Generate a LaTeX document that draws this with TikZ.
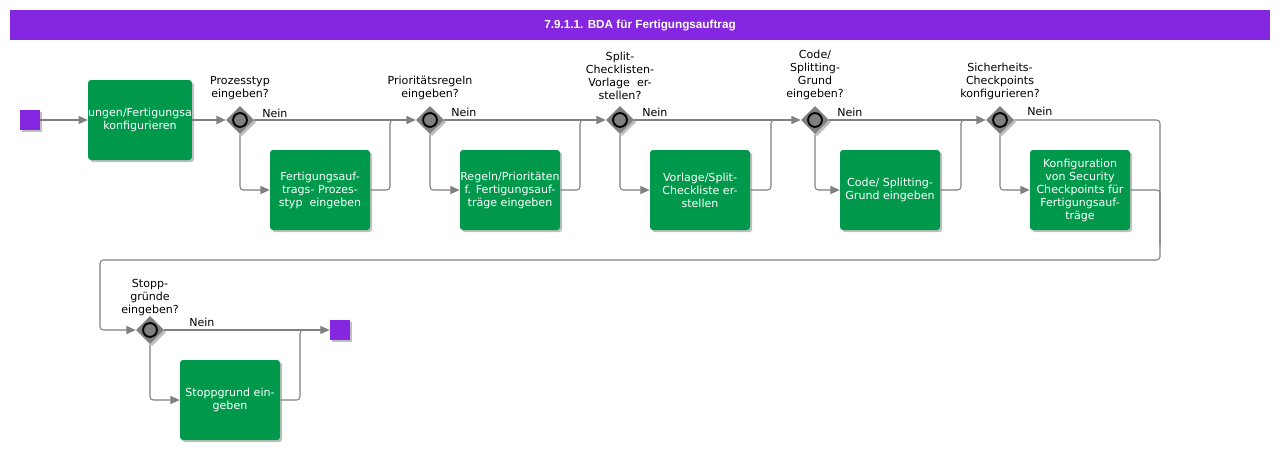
\documentclass[tikz,border=0pt]{standalone}
\usepackage{fontspec}
\setmainfont{DejaVu Sans}
\newfontfamily\titlefont{Liberation Sans}
\usetikzlibrary{shapes.geometric,shadows,arrows.meta}
\definecolor{bpurple}{HTML}{8526E0}
\definecolor{bgreen}{HTML}{00994C}
\definecolor{lgray}{HTML}{808080}
\begin{document}
\begin{tikzpicture}[x=0.75pt,y=-0.75pt,
  shd/.style={drop shadow={shadow xshift=1.6pt,shadow yshift=-1.6pt,fill=black,opacity=0.25}},
  task/.style={rectangle,rounded corners=2.25pt,fill=bgreen,text=white,minimum width=75pt,minimum height=60pt,inner sep=0pt,align=center,font=\fontsize{8.3}{9.75}\selectfont,shd},
  gw/.style={diamond,fill=lgray,minimum width=21pt,minimum height=21pt,inner sep=0pt,shd},
  gwc/.style={draw=black,fill=lgray,line width=1.4pt},
  ev/.style={rectangle,fill=bpurple,minimum size=15pt,inner sep=0pt,shd},
  lbl/.style={font=\fontsize{8.3}{9.75}\selectfont,align=center,inner sep=0pt,anchor=south},
  nein/.style={font=\fontsize{8.3}{9.75}\selectfont,inner sep=0pt,anchor=base west},
  flow/.style={draw=lgray,line width=0.8pt,rounded corners=2.5pt,-{Triangle[length=7pt,width=6pt]}},
  conn/.style={draw=lgray,line width=0.8pt,rounded corners=2.5pt}]
\useasboundingbox (0,0) rectangle (1280,450);
% title
\node[fill=bpurple,minimum width=945pt,minimum height=22.5pt,inner sep=0pt,text=white,font=\titlefont\bfseries\fontsize{8.8}{10}\selectfont] (title) at (640,25) {7.9.1.1. BDA für Fertigungsauftrag};
% events
\node[ev] (start) at (30,120) {};
\node[ev] (end) at (340,330) {};
% tasks
\node[task] (b1) at (140,120) {ungen/Fertigungsa\\konfigurieren};
\node[task] (b2) at (320,190) {Fertigungsauf-\\trags- Prozes-\\styp\ \ eingeben};
\node[task] (b3) at (510,190) {Regeln/Prioritäten\\f. Fertigungsauf-\\träge eingeben};
\node[task] (b4) at (700,190) {Vorlage/Split-\\Checkliste er-\\stellen};
\node[task] (b5) at (890,190) {Code/ Splitting-\\Grund eingeben};
\node[task] (b6) at (1080,190) {Konfiguration\\von Security\\Checkpoints für\\Fertigungsauf-\\träge};
\node[task] (b7) at (230,400) {Stoppgrund ein-\\geben};
% gateways
\node[gw] (g1) at (240,120) {};
\node[gw] (g2) at (430,120) {};
\node[gw] (g3) at (620,120) {};
\node[gw] (g4) at (815,120) {};
\node[gw] (g5) at (1000,120) {};
\node[gw] (g6) at (150,330) {};
\foreach \g in {g1,g2,g3,g4,g5,g6} \draw[gwc] (\g.center) circle (5.2pt);
% gateway labels
\node[lbl] (l1) at (240,100) {Prozesstyp\\eingeben?};
\node[lbl] (l2) at (430,100) {Prioritätsregeln\\eingeben?};
\node[lbl] (l3) at (620,100) {Split-\\Checklisten-\\Vorlage\ \ er-\\stellen?};
\node[lbl] (l4) at (815,100) {Code/\\Splitting-\\Grund\\eingeben?};
\node[lbl] (l5) at (1000,100) {Sicherheits-\\Checkpoints\\konfigurieren?};
\node[lbl] (l6) at (150,316) {Stopp-\\gründe\\eingeben?};
% Nein labels
\node[nein] (n1) at (262,117.5) {Nein};
\node[nein] (n2) at (451,116) {Nein};
\node[nein] (n3) at (642,116) {Nein};
\node[nein] (n4) at (837,116) {Nein};
\node[nein] (n5) at (1027,115) {Nein};
\node[nein] (n6) at (189,326) {Nein};
% junctions
\coordinate (j1) at (390,120);
\coordinate (j2) at (580,120);
\coordinate (j3) at (771,120);
\coordinate (j4) at (961,120);
\coordinate (k0) at (1160,245);
\coordinate (k1) at (1160,260);
\coordinate (k2) at (100,330);
\coordinate (j6) at (300,330);
% connectors
\draw[flow] (start) -- (b1);
\draw[flow] (b1) -- (g1);
\draw[flow] (g1) -- (g2);
\draw[flow] (g2) -- (g3);
\draw[flow] (g3) -- (g4);
\draw[flow] (g4) -- (g5);
\draw[flow] (g1.south) |- (b2.west);
\draw[flow] (g2.south) |- (b3.west);
\draw[flow] (g3.south) |- (b4.west);
\draw[flow] (g4.south) |- (b5.west);
\draw[flow] (g5.south) |- (b6.west);
\draw[conn] (b2.east) -| (j1) -- ++(8,0);
\draw[conn] (b3.east) -| (j2) -- ++(8,0);
\draw[conn] (b4.east) -| (j3) -- ++(8,0);
\draw[conn] (b5.east) -| (j4) -- ++(8,0);
\draw[flow] (g5.east) -| (k1) -| (k2) -- (g6.west);
\draw[conn] (b6.east) -| (k0);
\draw[flow] (g6) -- (end);
\draw[flow] (g6.south) |- (b7.west);
\draw[conn] (b7.east) -| (j6) -- ++(8,0);
\end{tikzpicture}
\end{document}
